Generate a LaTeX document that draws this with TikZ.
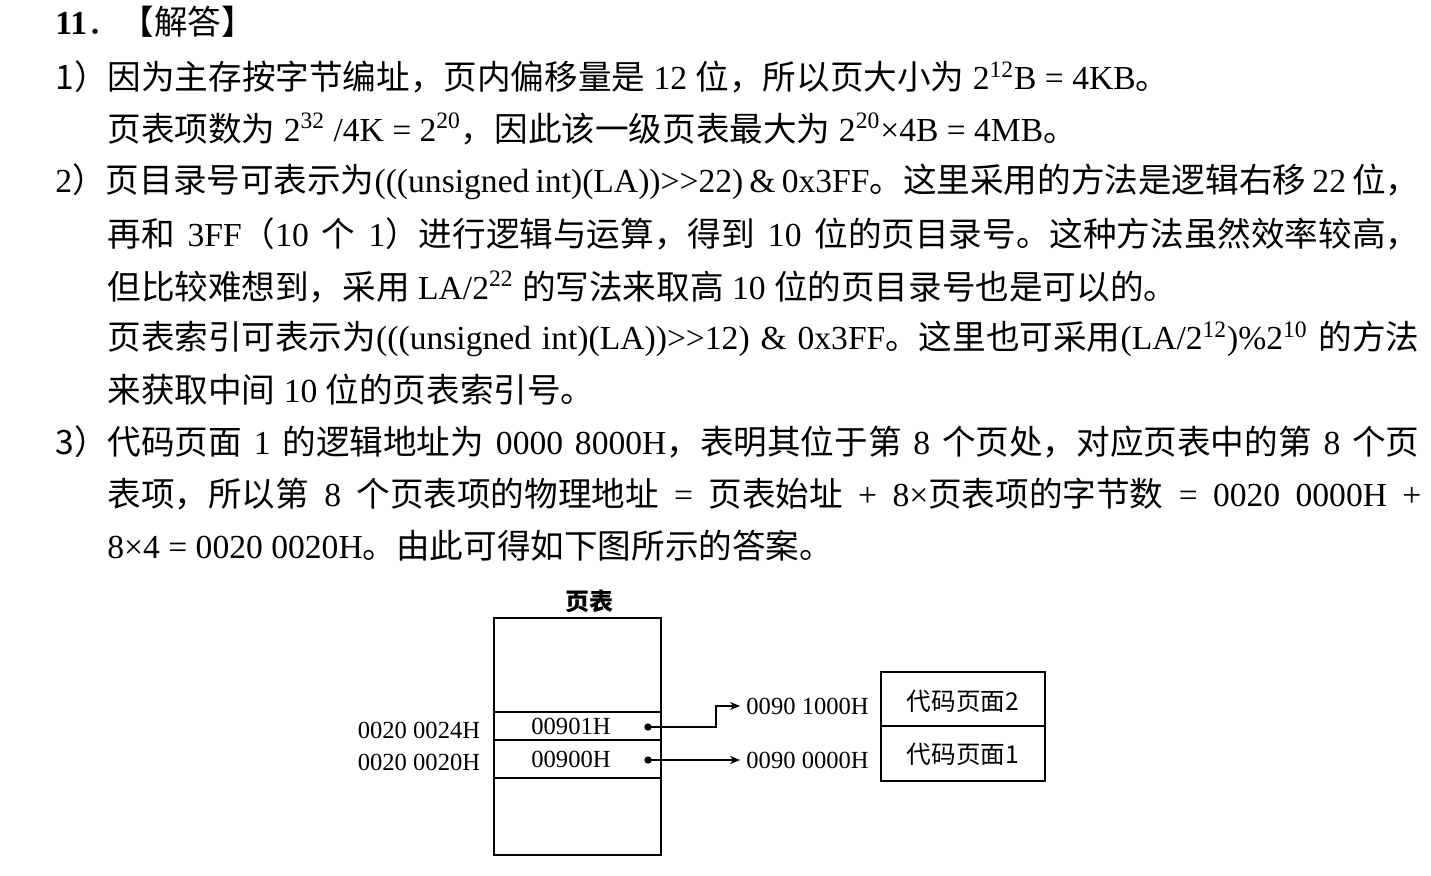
\documentclass[tikz,border=0pt]{standalone}
\usepackage{fontspec}
\setmainfont{Liberation Serif}
\newfontfamily\cjk{Noto Sans CJK SC}
\usetikzlibrary{arrows.meta,positioning}
\newcommand{\zh}[1]{{\cjk #1}}
\newcommand{\jline}[2]{\hbox to #1{#2}}
\newcommand{\sps}[1]{\textsuperscript{#1}}
\tikzset{
  txt/.style={anchor=west,inner sep=0pt,font=\fontsize{16.8}{20}\selectfont},
  lbl/.style={inner sep=0pt,font=\fontsize{12.3}{14}\selectfont},
  cell/.style={draw,line width=0.6pt},
  link/.style={-{Stealth[length=5pt,width=4pt]},line width=0.6pt},
  dot/.style={circle,fill,inner sep=1.3pt}
}
\begin{document}
\begin{tikzpicture}[x=0.5pt,y=-0.5pt]
\useasboundingbox (0,0) rectangle (1431,875);
% answer text
\node[txt] (t0) at (55,22) {\textbf{11}\zh{．【解答】}};
\node[txt] (t1) at (55,77) {\zh{1）因为主存按字节编址，页内偏移量是} 12 \zh{位，所以页大小为} 2\sps{12}B = 4KB\zh{。}};
\node[txt] (t2) at (107,129) {\zh{页表项数为} 2\sps{32} /4K = 2\sps{20}\zh{，因此该一级页表最大为} 2\sps{20}×4B = 4MB\zh{。}};
\node[txt] (t3) at (55,182) {\jline{682pt}{2\zh{）页目录号可表示为}(((unsigned int)(LA))>{}>22) \& 0x3FF\zh{。这里采用的方法是逻辑右移} 22 \zh{位，}}};
\node[txt] (t4) at (107,234) {\jline{656pt}{\zh{再和} 3FF\zh{（}10 \zh{个} 1\zh{）进行逻辑与运算，得到} 10 \zh{位的页目录号。这种方法虽然效率较高，}}};
\node[txt] (t5) at (107,287) {\zh{但比较难想到，采用} LA/2\sps{22} \zh{的写法来取高} 10 \zh{位的页目录号也是可以的。}};
\node[txt] (t6) at (107,339) {\jline{656pt}{\zh{页表索引可表示为}(((unsigned int)(LA))>{}>12) \& 0x3FF\zh{。这里也可采用}(LA/2\sps{12})\%2\sps{10} \zh{的方法}}};
\node[txt] (t7) at (107,390) {\zh{来获取中间} 10 \zh{位的页表索引号。}};
\node[txt] (t8) at (55,442) {\jline{682pt}{\zh{3）代码页面} 1 \zh{的逻辑地址为} 0000 8000H\zh{，表明其位于第} 8 \zh{个页处，对应页表中的第} 8 \zh{个页}}};
\node[txt] (t9) at (107,494) {\jline{657pt}{\zh{表项，所以第} 8 \zh{个页表项的物理地址} = \zh{页表始址} + 8×\zh{页表项的字节数} = 0020 0000H +}};
\node[txt] (t10) at (107,546) {8×4 = 0020 0020H\zh{。由此可得如下图所示的答案。}};
% page table
\draw[cell] (494,618) rectangle (661,855);
\draw[cell] (494,712) -- (661,712);
\draw[cell] (494,740) -- (661,740);
\draw[cell] (494,778) -- (661,778);
\node[lbl,font=\fontsize{12}{14}\cjk\bfseries] (ptitle) at (589,601) {页表};
\node[lbl] (e1) at (571,726) {00901H};
\node[lbl] (e0) at (571,759) {00900H};
\node[lbl] (a1) at (419,730) {0020 0024H};
\node[lbl] (a0) at (419,762) {0020 0020H};
\node[dot] (d1) at (648,727) {};
\node[dot] (d0) at (648,760) {};
% code pages
\draw[cell] (881,672) rectangle (1045,781);
\draw[cell] (881,726) -- (1045,726);
\node[lbl,font=\fontsize{12.3}{14}\cjk] (p2) at (963,701) {代码页面2};
\node[lbl,font=\fontsize{12.3}{14}\cjk] (p1) at (963,754) {代码页面1};
\node[lbl,anchor=west] (f1) at (746,706) {0090 1000H};
\node[lbl,anchor=west] (f0) at (746,760) {0090 0000H};
\draw[link] (d1.center) -| (716,706) -- ([xshift=-3pt]f1.west);
\draw[link] (d0.center) -- ([xshift=-3pt]f0.west);
\end{tikzpicture}
\end{document}
